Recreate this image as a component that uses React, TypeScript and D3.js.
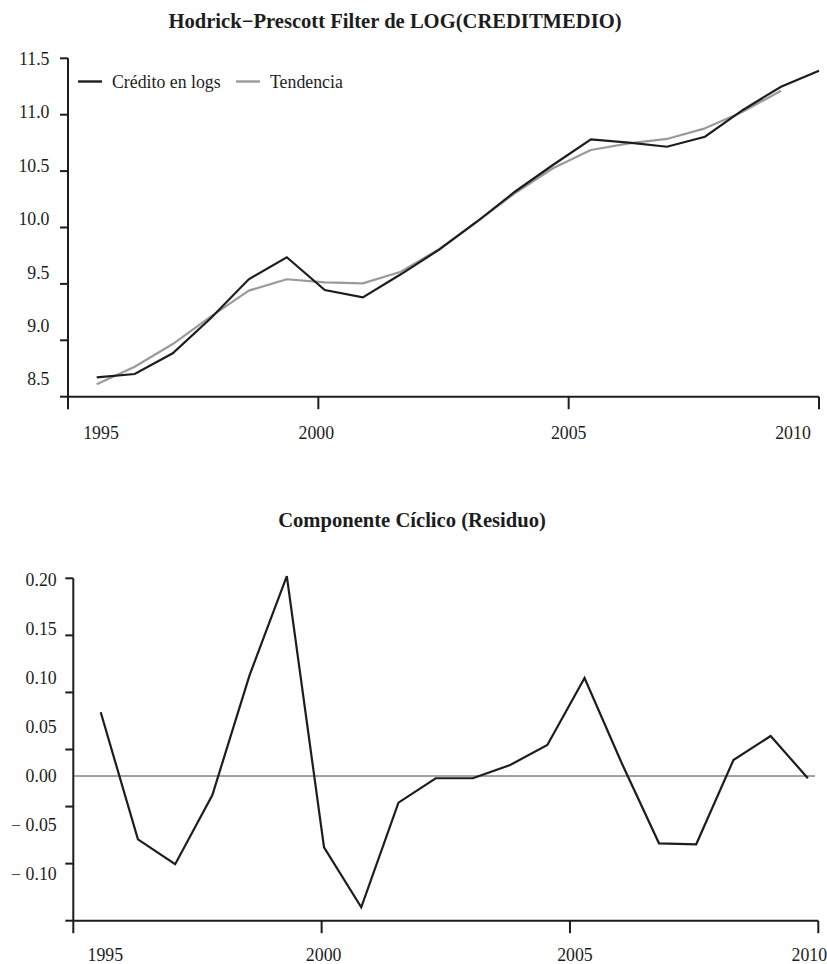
import React, { useRef, useEffect } from 'react';
import * as d3 from 'd3';

// series
const credito = [8.672, 8.701, 8.885, 9.195, 9.541, 9.736, 9.446, 9.381, 9.585, 9.802, 10.051, 10.317, 10.554, 10.782, 10.752, 10.716, 10.805, 11.042, 11.248, 11.39];
const tendencia = [8.61, 8.766, 8.967, 9.209, 9.44, 9.541, 9.514, 9.505, 9.608, 9.807, 10.051, 10.303, 10.525, 10.687, 10.746, 10.785, 10.879, 11.027, 11.213];
const ciclo = [0.065, -0.0646, -0.09, -0.0194, 0.103, 0.204, -0.0728, -0.134, -0.0272, -0.0023, -0.0023, 0.0112, 0.0316, 0.1, 0.013, -0.0687, -0.0697, 0.0163, 0.0408, -0.0023];

const yearTicks = [1995, 2000, 2005, 2010];
const topTicks = [8.5, 9.0, 9.5, 10.0, 10.5, 11.0, 11.5];
const bottomTicks = [-0.1, -0.05, 0.0, 0.05, 0.1, 0.15, 0.2];

const titleTop = 'Hodrick\u2212Prescott Filter de LOG(CREDITMEDIO)';
const titleBottom = 'Componente C\u00edclico (Residuo)';
const legendNames = ['Cr\u00e9dito en logs', 'Tendencia'];

const FONT = '"Liberation Serif", "Times New Roman", serif';
const INK = '#1d1d1d';
const GREY = '#9a9a9a';

export default function App() {
  const svgRef = useRef<SVGSVGElement>(null);

  useEffect(() => {
    if (!svgRef.current) return;
    const svg = d3.select(svgRef.current);
    svg.selectAll('*').remove();

    const fs = 17.8;

    //---------- TOP PANEL
    const xTop = d3.scaleLinear().domain([1995, 2010]).range([68, 819]);
    const tTop = d3.scaleLinear().domain([0, 19]).range([1995.573, 2010]); // observation index -> time
    const yTop = d3.scaleLinear().domain([8.5, 11.5]).range([396.7, 58.3]);
    const yTopLab = d3.scaleLinear().domain([8.5, 11.5]).range([379.3, 59]);

    const top = svg.append('g');
    top.append('text')
      .attr('x', 395).attr('y', 28)
      .attr('text-anchor', 'middle')
      .attr('font-family', FONT).attr('font-weight', 'bold').attr('font-size', 20.6)
      .attr('fill', INK)
      .text(titleTop);

    // axes
    top.append('line')
      .attr('x1', xTop(1995)).attr('x2', xTop(1995))
      .attr('y1', yTop(11.5)).attr('y2', yTop(8.5))
      .attr('stroke', INK).attr('stroke-width', 2);
    top.append('line')
      .attr('x1', xTop(1995)).attr('x2', xTop(2010))
      .attr('y1', yTop(8.5)).attr('y2', yTop(8.5))
      .attr('stroke', INK).attr('stroke-width', 2);
    topTicks.forEach(v => {
      top.append('line')
        .attr('x1', xTop(1995) - 8).attr('x2', xTop(1995))
        .attr('y1', yTop(v)).attr('y2', yTop(v))
        .attr('stroke', INK).attr('stroke-width', 2);
      top.append('text')
        .attr('x', 49.5).attr('y', yTopLab(v)).attr('dy', '0.34em')
        .attr('text-anchor', 'end')
        .attr('font-family', FONT).attr('font-size', fs).attr('fill', INK)
        .text(d3.format('.1f')(v));
    });
    const topNudge = [33, -2, 0, -26];
    yearTicks.forEach((yr, i) => {
      top.append('line')
        .attr('x1', xTop(yr)).attr('x2', xTop(yr))
        .attr('y1', yTop(8.5)).attr('y2', yTop(8.5) + 12.5)
        .attr('stroke', INK).attr('stroke-width', 2);
      top.append('text')
        .attr('x', xTop(yr) + topNudge[i]).attr('y', 439)
        .attr('text-anchor', 'middle')
        .attr('font-family', FONT).attr('font-size', fs).attr('fill', INK)
        .text(yr);
    });

    const lineTop = d3.line<number>()
      .x((_, i) => xTop(tTop(i)))
      .y(d => yTop(d));

    top.append('path').datum(tendencia)
      .attr('fill', 'none').attr('stroke', GREY).attr('stroke-width', 2.2)
      .attr('stroke-linejoin', 'round')
      .attr('d', lineTop);
    top.append('path').datum(credito)
      .attr('fill', 'none').attr('stroke', INK).attr('stroke-width', 2.2)
      .attr('stroke-linejoin', 'miter')
      .attr('d', lineTop);

    // legend
    const legend = top.append('g');
    const legColors = [INK, GREY];
    const legX = [78, 236];
    legendNames.forEach((name, i) => {
      legend.append('line')
        .attr('x1', legX[i]).attr('x2', legX[i] + 24)
        .attr('y1', 81.5).attr('y2', 81.5)
        .attr('stroke', legColors[i]).attr('stroke-width', 2.4);
      legend.append('text')
        .attr('x', legX[i] + 34).attr('y', 88)
        .attr('font-family', FONT).attr('font-size', fs).attr('fill', INK)
        .text(name);
    });

    //---------- BOTTOM PANEL
    const xBot = d3.scaleLinear().domain([1995, 2010]).range([73.3, 818.3]);
    const tBot = d3.scaleLinear().domain([0, 19]).range([1995.552, 2009.79]);
    const yBot = d3.scaleLinear().domain([-0.1, 0.2]).range([874, 580]);      // values / labels
    const yBotTick = d3.scaleLinear().domain([-0.1, 0.2]).range([920.7, 578.3]); // tick marks

    const bot = svg.append('g');
    bot.append('text')
      .attr('x', 412).attr('y', 526.7)
      .attr('text-anchor', 'middle')
      .attr('font-family', FONT).attr('font-weight', 'bold').attr('font-size', 20.6)
      .attr('fill', INK)
      .text(titleBottom);

    bot.append('line')
      .attr('x1', xBot(1995)).attr('x2', xBot(1995))
      .attr('y1', yBotTick(0.2)).attr('y2', yBotTick(-0.1))
      .attr('stroke', INK).attr('stroke-width', 2);
    bot.append('line')
      .attr('x1', xBot(1995)).attr('x2', xBot(2010))
      .attr('y1', yBotTick(-0.1)).attr('y2', yBotTick(-0.1))
      .attr('stroke', INK).attr('stroke-width', 2);

    const fmt2 = d3.format('.2f');
    bottomTicks.forEach(v => {
      bot.append('line')
        .attr('x1', xBot(1995) - 8).attr('x2', xBot(1995))
        .attr('y1', yBotTick(v)).attr('y2', yBotTick(v))
        .attr('stroke', INK).attr('stroke-width', 2);
      bot.append('text')
        .attr('x', 56.7).attr('y', yBot(v)).attr('dy', '0.34em')
        .attr('text-anchor', 'end')
        .attr('font-family', FONT).attr('font-size', fs).attr('fill', INK)
        .text(v < 0 ? '\u2212 ' + fmt2(-v) : fmt2(Math.abs(v)));
    });
    const botNudge = [32, 2, 5, -9];
    yearTicks.forEach((yr, i) => {
      bot.append('line')
        .attr('x1', xBot(yr)).attr('x2', xBot(yr))
        .attr('y1', yBotTick(-0.1)).attr('y2', yBotTick(-0.1) + 12.5)
        .attr('stroke', INK).attr('stroke-width', 2);
      bot.append('text')
        .attr('x', xBot(yr) + botNudge[i]).attr('y', 961)
        .attr('text-anchor', 'middle')
        .attr('font-family', FONT).attr('font-size', fs).attr('fill', INK)
        .text(yr);
    });

    // zero reference line
    bot.append('line')
      .attr('x1', xBot(1995)).attr('x2', 815)
      .attr('y1', yBot(0)).attr('y2', yBot(0))
      .attr('stroke', '#444').attr('stroke-width', 1);

    const lineBot = d3.line<number>()
      .x((_, i) => xBot(tBot(i)))
      .y(d => yBot(d));
    bot.append('path').datum(ciclo)
      .attr('fill', 'none').attr('stroke', INK).attr('stroke-width', 2.2)
      .attr('d', lineBot);
  }, []);

  return (
    <svg
      ref={svgRef}
      width={827}
      height={964}
      style={{ position: 'absolute', left: 0, top: 0, background: '#fff' }}
    />
  );
}
